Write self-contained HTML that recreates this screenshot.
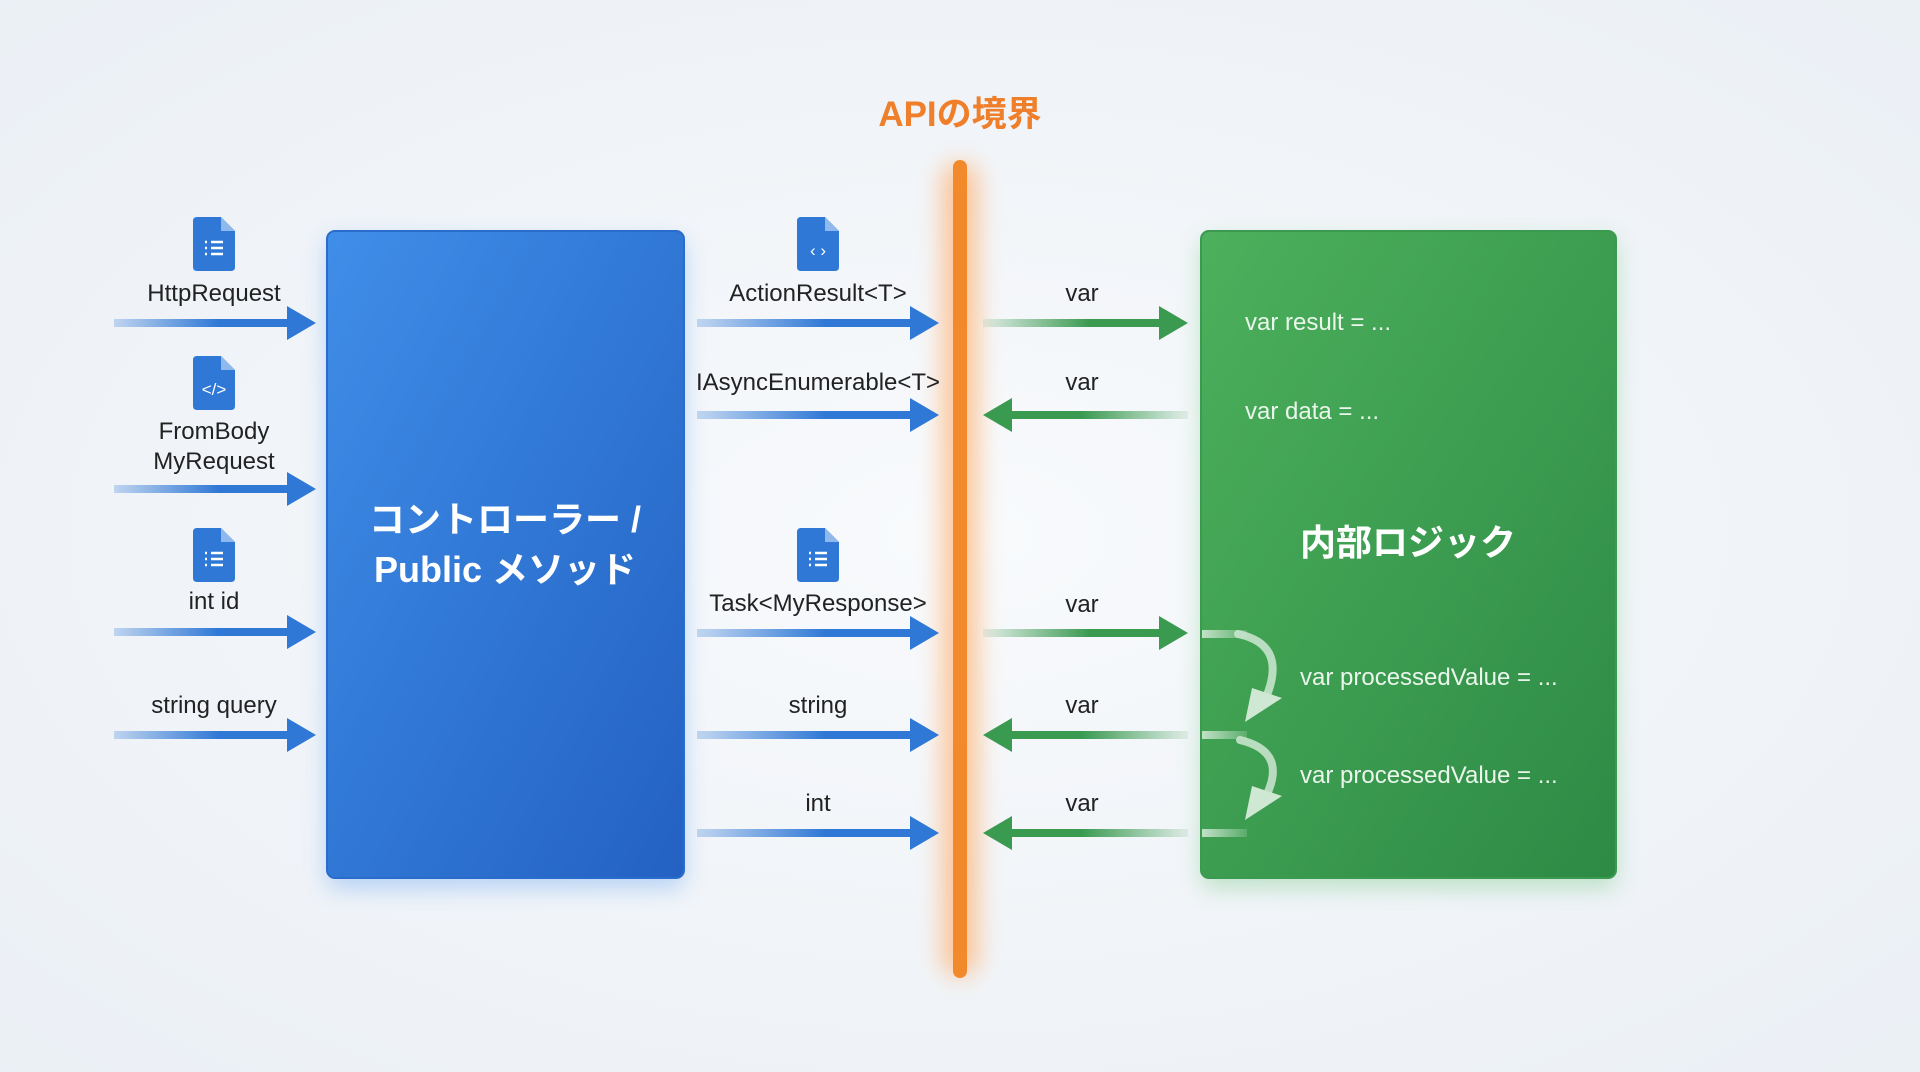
<!DOCTYPE html>
<html><head><meta charset="utf-8"><style>
html,body{margin:0;padding:0;width:1920px;height:1072px;overflow:hidden;background:#f3f6fa}
text{font-family:"Liberation Sans","Noto Sans CJK JP",sans-serif}
</style></head><body>
<svg width="1920" height="1072" viewBox="0 0 1920 1072" xmlns="http://www.w3.org/2000/svg">
<defs>
<radialGradient id="bg" cx="0.5" cy="0.5" r="0.8"><stop offset="0" stop-color="#f8fafc"/><stop offset="1" stop-color="#e9eef4"/></radialGradient>
<linearGradient id="bl" x1="0" y1="0" x2="1" y2="1"><stop offset="0" stop-color="#3f8ee8"/><stop offset="1" stop-color="#2361c2"/></linearGradient>
<linearGradient id="gr" x1="0" y1="0" x2="1" y2="1"><stop offset="0" stop-color="#4cb05c"/><stop offset="1" stop-color="#2d8a45"/></linearGradient>
<linearGradient id="ab" x1="0" x2="1"><stop offset="0" stop-color="#2f78d6" stop-opacity="0.25"/><stop offset="0.6" stop-color="#2f78d6"/></linearGradient>
<linearGradient id="agR" x1="0" x2="1"><stop offset="0" stop-color="#3a9a50" stop-opacity="0.1"/><stop offset="0.6" stop-color="#3a9a50"/></linearGradient>
<linearGradient id="agL" x1="1" x2="0"><stop offset="0" stop-color="#3a9a50" stop-opacity="0.1"/><stop offset="0.6" stop-color="#3a9a50"/></linearGradient>
<linearGradient id="wf" x1="0" x2="1"><stop offset="0" stop-color="#cfe8d3" stop-opacity="0.9"/><stop offset="1" stop-color="#cfe8d3" stop-opacity="0.2"/></linearGradient>
<filter id="sh" x="-20%" y="-20%" width="140%" height="140%"><feGaussianBlur stdDeviation="12"/></filter>
<filter id="sh2" x="-300%" y="-10%" width="700%" height="120%"><feGaussianBlur stdDeviation="12"/></filter>
</defs>
<rect width="1920" height="1072" fill="url(#bg)"/>
<rect x="327" y="240" width="357" height="648" rx="8" fill="#6aa6f0" opacity="0.45" filter="url(#sh)"/>
<rect x="1201" y="240" width="415" height="648" rx="8" fill="#7cc98a" opacity="0.45" filter="url(#sh)"/>
<rect x="942" y="163" width="36" height="813" rx="16" fill="#ffb070" opacity="0.7" filter="url(#sh2)"/>
<rect x="327" y="231" width="357" height="647" rx="8" fill="url(#bl)" stroke="#2a6ccc" stroke-width="2"/>
<rect x="1201" y="231" width="415" height="647" rx="8" fill="url(#gr)" stroke="#3a9a50" stroke-width="2"/>
<rect x="953" y="160" width="14" height="818" rx="7" fill="#f28a2b"/>
<text x="960" y="126" text-anchor="middle" font-size="35" font-weight="bold" fill="#ef7f2a">APIの境界</text>
<text x="505" y="532" text-anchor="middle" font-size="36" font-weight="bold" fill="#fff">コントローラー /</text>
<text x="505" y="582" text-anchor="middle" font-size="36" font-weight="bold" fill="#fff">Public メソッド</text>
<text x="1408" y="555" text-anchor="middle" font-size="36" font-weight="bold" fill="#fff">内部ロジック</text>
<g font-size="24" fill="#eaf6ec">
<text x="1245" y="330">var result = ...</text>
<text x="1245" y="419">var data = ...</text>
<text x="1300" y="685">var processedValue = ...</text>
<text x="1300" y="783">var processedValue = ...</text>
</g>
<rect x="1202" y="630" width="45" height="8" fill="url(#wf)"/>
<rect x="1202" y="731" width="45" height="8" fill="url(#wf)"/>
<rect x="1202" y="829" width="45" height="8" fill="url(#wf)"/>
<g fill="none" stroke-width="8" stroke-linecap="round" stroke="#cfe8d3" opacity="0.85">
<path d="M1238 634 Q1290 645 1264 702"/>
<path d="M1240 740 Q1290 752 1264 800"/>
</g>
<polygon points="1245,722 1282,698 1252,688" fill="#cfe8d3"/>
<polygon points="1245,820 1282,796 1252,786" fill="#cfe8d3"/>
<g>
<rect x="114" y="319" width="175" height="8" fill="url(#ab)"/><polygon points="287,306 316,323 287,340" fill="#2f78d6"/>
<rect x="114" y="485" width="175" height="8" fill="url(#ab)"/><polygon points="287,472 316,489 287,506" fill="#2f78d6"/>
<rect x="114" y="628" width="175" height="8" fill="url(#ab)"/><polygon points="287,615 316,632 287,649" fill="#2f78d6"/>
<rect x="114" y="731" width="175" height="8" fill="url(#ab)"/><polygon points="287,718 316,735 287,752" fill="#2f78d6"/>
</g>
<g>
<rect x="697" y="319" width="215" height="8" fill="url(#ab)"/><polygon points="910,306 939,323 910,340" fill="#2f78d6"/>
<rect x="697" y="411" width="215" height="8" fill="url(#ab)"/><polygon points="910,398 939,415 910,432" fill="#2f78d6"/>
<rect x="697" y="629" width="215" height="8" fill="url(#ab)"/><polygon points="910,616 939,633 910,650" fill="#2f78d6"/>
<rect x="697" y="731" width="215" height="8" fill="url(#ab)"/><polygon points="910,718 939,735 910,752" fill="#2f78d6"/>
<rect x="697" y="829" width="215" height="8" fill="url(#ab)"/><polygon points="910,816 939,833 910,850" fill="#2f78d6"/>
</g>
<g>
<rect x="983" y="319" width="178" height="8" fill="url(#agR)"/><polygon points="1159,306 1188,323 1159,340" fill="#3a9a50"/>
<rect x="1010" y="411" width="178" height="8" fill="url(#agL)"/><polygon points="1012,398 983,415 1012,432" fill="#3a9a50"/>
<rect x="983" y="629" width="178" height="8" fill="url(#agR)"/><polygon points="1159,616 1188,633 1159,650" fill="#3a9a50"/>
<rect x="1010" y="731" width="178" height="8" fill="url(#agL)"/><polygon points="1012,718 983,735 1012,752" fill="#3a9a50"/>
<rect x="1010" y="829" width="178" height="8" fill="url(#agL)"/><polygon points="1012,816 983,833 1012,850" fill="#3a9a50"/>
</g>
<g font-size="24" fill="#222" text-anchor="middle">
<text x="214" y="301">HttpRequest</text>
<text x="214" y="439">FromBody</text>
<text x="214" y="469">MyRequest</text>
<text x="214" y="609">int id</text>
<text x="214" y="713">string query</text>
<text x="818" y="301">ActionResult&lt;T&gt;</text>
<text x="818" y="390">IAsyncEnumerable&lt;T&gt;</text>
<text x="818" y="611">Task&lt;MyResponse&gt;</text>
<text x="818" y="713">string</text>
<text x="818" y="811">int</text>
<text x="1082" y="301">var</text>
<text x="1082" y="390">var</text>
<text x="1082" y="612">var</text>
<text x="1082" y="713">var</text>
<text x="1082" y="811">var</text>
</g>
<g>
<g transform="translate(193,217)"><path d="M0 4 Q0 0 4 0 H28 L42 14 V50 Q42 54 38 54 H4 Q0 54 0 50Z" fill="#2f78d6"/><path d="M28 0 V14 H42Z" fill="#8fb9ee"/><g stroke="#fff" stroke-width="2.5"><line x1="12" y1="25" x2="14" y2="25"/><line x1="18" y1="25" x2="30" y2="25"/><line x1="12" y1="31" x2="14" y2="31"/><line x1="18" y1="31" x2="30" y2="31"/><line x1="12" y1="37" x2="14" y2="37"/><line x1="18" y1="37" x2="30" y2="37"/></g></g>
<g transform="translate(193,356)"><path d="M0 4 Q0 0 4 0 H28 L42 14 V50 Q42 54 38 54 H4 Q0 54 0 50Z" fill="#2f78d6"/><path d="M28 0 V14 H42Z" fill="#8fb9ee"/><text x="21" y="39" text-anchor="middle" font-size="17" fill="#fff">&lt;/&gt;</text></g>
<g transform="translate(193,528)"><path d="M0 4 Q0 0 4 0 H28 L42 14 V50 Q42 54 38 54 H4 Q0 54 0 50Z" fill="#2f78d6"/><path d="M28 0 V14 H42Z" fill="#8fb9ee"/><g stroke="#fff" stroke-width="2.5"><line x1="12" y1="25" x2="14" y2="25"/><line x1="18" y1="25" x2="30" y2="25"/><line x1="12" y1="31" x2="14" y2="31"/><line x1="18" y1="31" x2="30" y2="31"/><line x1="12" y1="37" x2="14" y2="37"/><line x1="18" y1="37" x2="30" y2="37"/></g></g>
<g transform="translate(797,217)"><path d="M0 4 Q0 0 4 0 H28 L42 14 V50 Q42 54 38 54 H4 Q0 54 0 50Z" fill="#2f78d6"/><path d="M28 0 V14 H42Z" fill="#8fb9ee"/><text x="21" y="39" text-anchor="middle" font-size="17" fill="#fff">‹ ›</text></g>
<g transform="translate(797,528)"><path d="M0 4 Q0 0 4 0 H28 L42 14 V50 Q42 54 38 54 H4 Q0 54 0 50Z" fill="#2f78d6"/><path d="M28 0 V14 H42Z" fill="#8fb9ee"/><g stroke="#fff" stroke-width="2.5"><line x1="12" y1="25" x2="14" y2="25"/><line x1="18" y1="25" x2="30" y2="25"/><line x1="12" y1="31" x2="14" y2="31"/><line x1="18" y1="31" x2="30" y2="31"/><line x1="12" y1="37" x2="14" y2="37"/><line x1="18" y1="37" x2="30" y2="37"/></g></g>
</g>
</svg>
</body></html>
